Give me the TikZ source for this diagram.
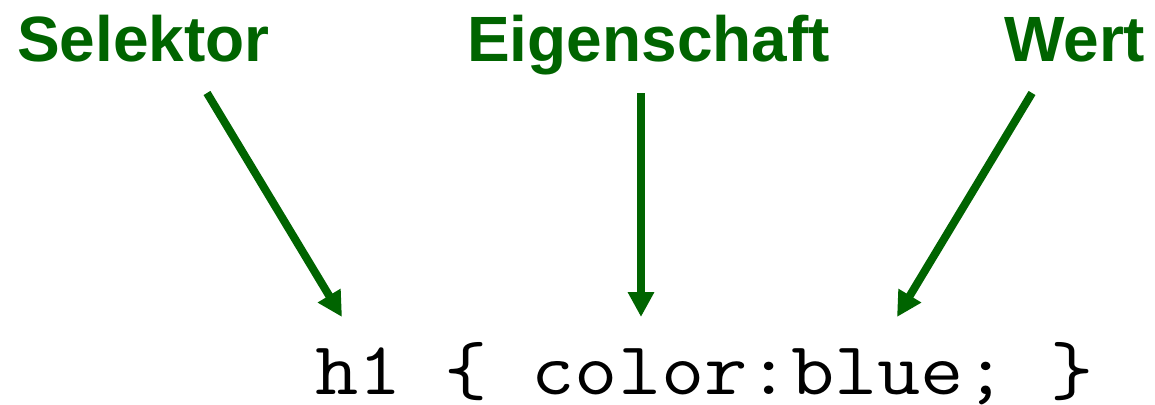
\documentclass[tikz,border=0pt]{standalone}
\usepackage{fontspec}
\setmainfont{Liberation Sans}
\usetikzlibrary{arrows.meta}
\definecolor{dkgreen}{HTML}{006400}
\begin{document}
\begin{tikzpicture}[x=1pt,y=-1pt,
  lbl/.style={text=dkgreen,font=\fontsize{64}{64}\selectfont\bfseries,inner sep=0pt,anchor=base west},
  arr/.style={draw=dkgreen,line width=8pt,-{Triangle[length=25pt,width=25pt]}},
  code/.style={font=\ttfamily\fontsize{75}{75}\selectfont,inner sep=0pt,anchor=base west}]
\useasboundingbox (0,0) rectangle (1155,404);
\node[lbl] (sel) at (17,61) {Selektor};
\node[lbl] (eig) at (467,61) {Eigenschaft};
\node[lbl] (wert) at (1004,61) {Wert};
\node[code] (css) at (315,394) {\scalebox{1.12}[1]{h1 \{ color:blue; \}}};
\coordinate (s1) at (207,93);
\coordinate (s2) at (342,317);
\coordinate (e1) at (641,93);
\coordinate (e2) at (641,317);
\coordinate (w1) at (1032,93);
\coordinate (w2) at (897,317);
\draw[arr] (s1) -- (s2);
\draw[arr] (e1) -- (e2);
\draw[arr] (w1) -- (w2);
\end{tikzpicture}
\end{document}
